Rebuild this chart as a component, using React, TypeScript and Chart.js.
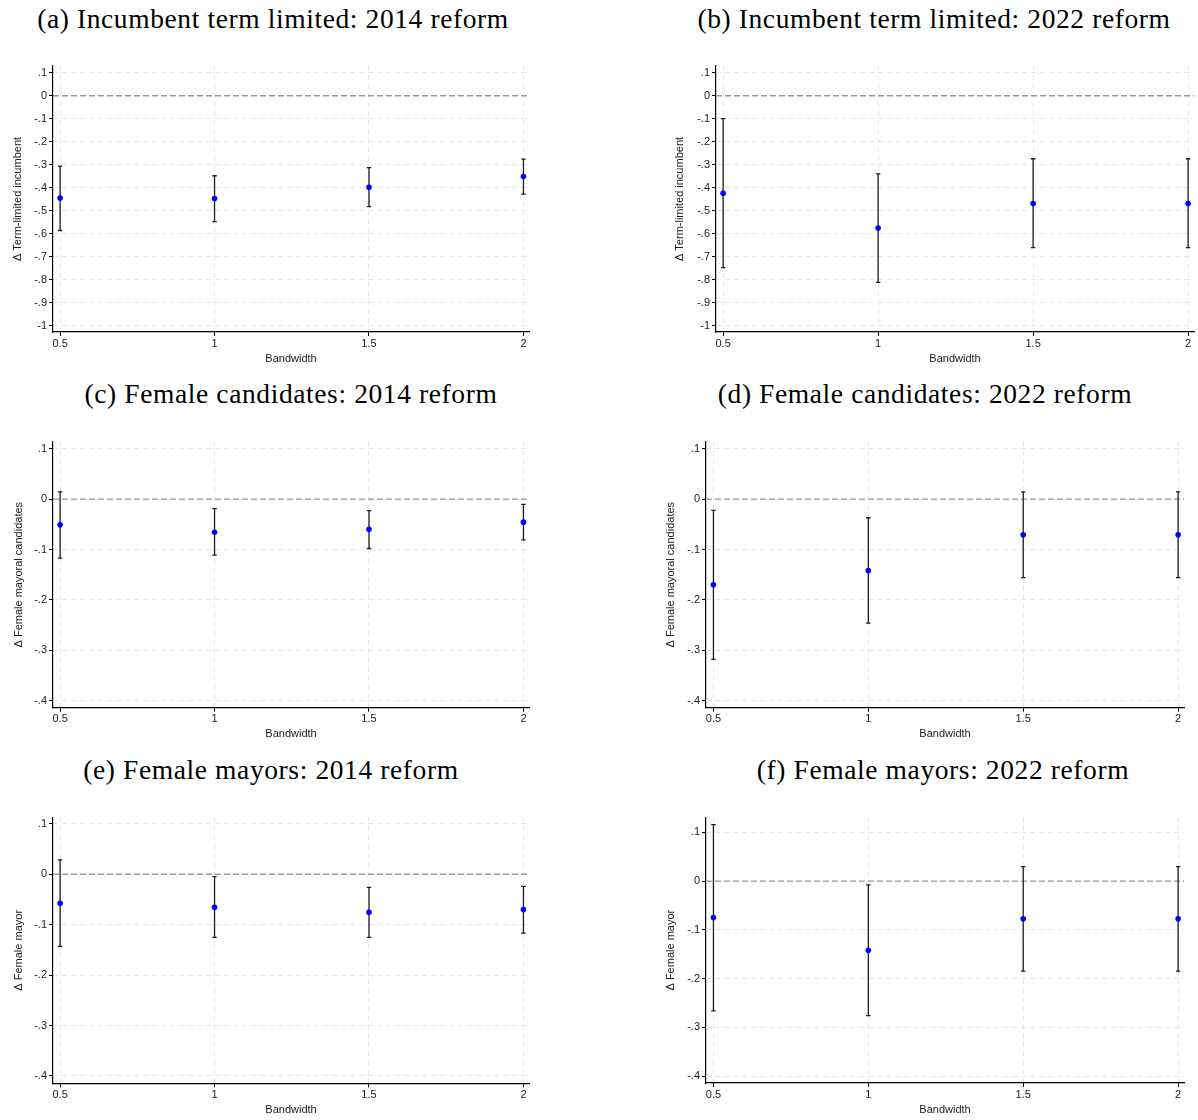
import React, { useEffect, useRef } from 'react';
import { Chart, registerables } from 'chart.js';

Chart.register(...registerables);

// ---------------- data ----------------
const bandwidths = [0.5, 1, 1.5, 2];
const xTickLabels = ['0.5', '1', '1.5', '2'];

const yTicksWide = [0.1, 0, -0.1, -0.2, -0.3, -0.4, -0.5, -0.6, -0.7, -0.8, -0.9, -1];
const yTickLabelsWide = ['.1', '0', '-.1', '-.2', '-.3', '-.4', '-.5', '-.6', '-.7', '-.8', '-.9', '-1'];
const yTicksNarrow = [0.1, 0, -0.1, -0.2, -0.3, -0.4];
const yTickLabelsNarrow = ['.1', '0', '-.1', '-.2', '-.3', '-.4'];

// (a) Incumbent term limited: 2014 reform
const estA = [-0.445, -0.447, -0.398, -0.351];
const lowA = [-0.586, -0.547, -0.482, -0.428];
const highA = [-0.306, -0.348, -0.313, -0.276];
// (b) Incumbent term limited: 2022 reform
const estB = [-0.424, -0.575, -0.469, -0.469];
const lowB = [-0.747, -0.811, -0.66, -0.66];
const highB = [-0.1, -0.34, -0.274, -0.274];
// (c) Female candidates: 2014 reform
const estC = [-0.051, -0.0656, -0.06, -0.0457];
const lowC = [-0.117, -0.111, -0.098, -0.081];
const highC = [0.0146, -0.019, -0.023, -0.0106];
// (d) Female candidates: 2022 reform
const estD = [-0.17, -0.1417, -0.0709, -0.0709];
const lowD = [-0.318, -0.246, -0.156, -0.156];
const highD = [-0.0225, -0.037, 0.0146, 0.0146];
// (e) Female mayors: 2014 reform
const estE = [-0.0575, -0.0655, -0.0755, -0.07];
const lowE = [-0.143, -0.125, -0.125, -0.1165];
const highE = [0.0285, -0.0046, -0.026, -0.024];
// (f) Female mayors: 2022 reform
const estF = [-0.0746, -0.1416, -0.0773, -0.0773];
const lowF = [-0.266, -0.2757, -0.1847, -0.1847];
const highF = [0.116, -0.0075, 0.03, 0.03];

// ---------------- layout ----------------
type Box = { left: number; top: number; w: number; h: number };
type Area = { l: number; t: number; r: number; b: number };
type PanelSpec = {
  title: string;
  titleX: number;
  titleBaseline: number;
  canvas: Box;
  area: Area;
  yTitle: string;
  yTitleX: number;
  xTitleY: number;
  est: number[];
  low: number[];
  high: number[];
  xMin: number;
  xMax: number;
  yMin: number;
  yMax: number;
  yTicks: number[];
  yTickLabels: string[];
};

const panels: PanelSpec[] = [
  {
    title: '(a) Incumbent term limited: 2014 reform', titleX: 273, titleBaseline: 28,
    canvas: { left: 0, top: 50, w: 545, h: 320 }, area: { l: 53, t: 66, r: 529, b: 332 },
    yTitle: '\u0394 Term-limited incumbent', yTitleX: 18, xTitleY: 359,
    est: estA, low: lowA, high: highA, xMin: 0.477, xMax: 2.018, yMin: -1.027, yMax: 0.129,
    yTicks: yTicksWide, yTickLabels: yTickLabelsWide,
  },
  {
    title: '(b) Incumbent term limited: 2022 reform', titleX: 934, titleBaseline: 28,
    canvas: { left: 660, top: 50, w: 538, h: 320 }, area: { l: 716, t: 66, r: 1194, b: 332 },
    yTitle: '\u0394 Term-limited incumbent', yTitleX: 680, xTitleY: 359,
    est: estB, low: lowB, high: highB, xMin: 0.477, xMax: 2.019, yMin: -1.027, yMax: 0.129,
    yTicks: yTicksWide, yTickLabels: yTickLabelsWide,
  },
  {
    title: '(c) Female candidates: 2014 reform', titleX: 291, titleBaseline: 403.5,
    canvas: { left: 0, top: 425, w: 545, h: 320 }, area: { l: 53, t: 441.7, r: 529, b: 707.7 },
    yTitle: '\u0394 Female mayoral candidates', yTitleX: 19, xTitleY: 734,
    est: estC, low: lowC, high: highC, xMin: 0.477, xMax: 2.018, yMin: -0.414, yMax: 0.114,
    yTicks: yTicksNarrow, yTickLabels: yTickLabelsNarrow,
  },
  {
    title: '(d) Female candidates: 2022 reform', titleX: 925, titleBaseline: 403.5,
    canvas: { left: 650, top: 425, w: 548, h: 320 }, area: { l: 706, t: 441.7, r: 1184, b: 707.7 },
    yTitle: '\u0394 Female mayoral candidates', yTitleX: 671, xTitleY: 734,
    est: estD, low: lowD, high: highD, xMin: 0.476, xMax: 2.019, yMin: -0.414, yMax: 0.114,
    yTicks: yTicksNarrow, yTickLabels: yTickLabelsNarrow,
  },
  {
    title: '(e) Female mayors: 2014 reform', titleX: 271, titleBaseline: 779,
    canvas: { left: 0, top: 800, w: 545, h: 320 }, area: { l: 53, t: 817.3, r: 529, b: 1083.3 },
    yTitle: '\u0394 Female mayor', yTitleX: 19, xTitleY: 1110,
    est: estE, low: lowE, high: highE, xMin: 0.477, xMax: 2.018, yMin: -0.4145, yMax: 0.113,
    yTicks: yTicksNarrow, yTickLabels: yTickLabelsNarrow,
  },
  {
    title: '(f) Female mayors: 2022 reform', titleX: 943, titleBaseline: 779,
    canvas: { left: 650, top: 800, w: 548, h: 320 }, area: { l: 706, t: 817.3, r: 1184, b: 1083 },
    yTitle: '\u0394 Female mayor', yTitleX: 671, xTitleY: 1110,
    est: estF, low: lowF, high: highF, xMin: 0.476, xMax: 2.019, yMin: -0.414, yMax: 0.131,
    yTicks: yTicksNarrow, yTickLabels: yTickLabelsNarrow,
  },
];

const SANS = '"Liberation Sans", Arial, sans-serif';
const FS = 11;
const LH = FS * 1.2;

function labelFor(values: number[], labels: string[], v: number): string {
  for (let i = 0; i < values.length; i++) if (Math.abs(values[i] - v) < 1e-9) return labels[i];
  return '';
}

function makeErrorBarPlugin(spec: PanelSpec) {
  return {
    id: 'errorBars',
    beforeDatasetsDraw(chart: any) {
      const { ctx, chartArea, scales } = chart;
      const xs = scales.x;
      const ys = scales.y;
      ctx.save();
      // reference line at zero
      const y0 = ys.getPixelForValue(0);
      ctx.strokeStyle = '#9a9a9a';
      ctx.lineWidth = 1.4;
      ctx.setLineDash([6, 3]);
      ctx.beginPath();
      ctx.moveTo(chartArea.left, y0);
      ctx.lineTo(chartArea.right, y0);
      ctx.stroke();
      ctx.setLineDash([]);
      // confidence intervals
      ctx.strokeStyle = '#1c1c1c';
      ctx.lineWidth = 1.3;
      bandwidths.forEach((bw, i) => {
        const px = xs.getPixelForValue(bw);
        const pHi = ys.getPixelForValue(spec.high[i]);
        const pLo = ys.getPixelForValue(spec.low[i]);
        ctx.beginPath();
        ctx.moveTo(px, pHi);
        ctx.lineTo(px, pLo);
        ctx.moveTo(px - 2.2, pHi);
        ctx.lineTo(px + 2.2, pHi);
        ctx.moveTo(px - 2.2, pLo);
        ctx.lineTo(px + 2.2, pLo);
        ctx.stroke();
      });
      ctx.restore();
    },
  };
}

function Panel({ spec }: { spec: PanelSpec }) {
  const ref = useRef<HTMLCanvasElement | null>(null);
  useEffect(() => {
    const c = spec.canvas;
    const a = spec.area;
    const padTop = a.t - c.top;
    const padRight = c.left + c.w - a.r;
    const yWidth = a.l - c.left;
    const xHeight = c.top + c.h - a.b;
    const gridCommon = {
      color: '#e7e7e7',
      lineWidth: 1,
      drawTicks: true,
      tickLength: 4,
      tickColor: '#000',
      tickWidth: 1,
      tickBorderDash: [],
    };
    const chart = new Chart(ref.current as HTMLCanvasElement, {
      type: 'scatter',
      data: {
        datasets: [
          {
            data: bandwidths.map((bw, i) => ({ x: bw, y: spec.est[i] })),
            pointRadius: 2.8,
            pointHoverRadius: 2.8,
            pointBackgroundColor: '#0000ff',
            pointBorderColor: '#0000ff',
            pointBorderWidth: 0,
          },
        ],
      },
      options: {
        animation: false,
        responsive: false,
        maintainAspectRatio: false,
        events: [],
        layout: { padding: { top: padTop, right: padRight, bottom: 0, left: 0 } },
        plugins: {
          legend: { display: false },
          tooltip: { enabled: false },
          title: { display: false },
        },
        scales: {
          x: {
            type: 'linear',
            min: spec.xMin,
            max: spec.xMax,
            bounds: 'data',
            afterBuildTicks: (s: any) => {
              s.ticks = bandwidths.map((v) => ({ value: v }));
            },
            afterFit: (s: any) => {
              s.height = xHeight;
            },
            ticks: {
              autoSkip: false,
              maxRotation: 0,
              padding: 1,
              color: '#1a1a1a',
              font: { family: SANS, size: FS },
              callback: (v: any) => labelFor(bandwidths, xTickLabels, Number(v)),
            },
            grid: gridCommon,
            border: { display: true, color: '#000', width: 1.2, dash: [5, 4] },
            title: {
              display: true,
              text: 'Bandwidth',
              color: '#1a1a1a',
              font: { family: SANS, size: FS },
              padding: { top: 0, bottom: c.top + c.h - spec.xTitleY - LH / 2 },
            },
          },
          y: {
            type: 'linear',
            min: spec.yMin,
            max: spec.yMax,
            bounds: 'data',
            afterBuildTicks: (s: any) => {
              s.ticks = spec.yTicks.map((v) => ({ value: v }));
            },
            afterFit: (s: any) => {
              s.width = yWidth;
            },
            ticks: {
              autoSkip: false,
              padding: 2,
              color: '#1a1a1a',
              font: { family: SANS, size: FS },
              callback: (v: any) => labelFor(spec.yTicks, spec.yTickLabels, Number(v)),
            },
            grid: gridCommon,
            border: { display: true, color: '#000', width: 1.2, dash: [5, 4] },
            title: {
              display: true,
              text: spec.yTitle,
              color: '#1a1a1a',
              font: { family: SANS, size: FS },
              padding: { top: spec.yTitleX - c.left - LH / 2, bottom: 0 },
            },
          },
        },
      } as any,
      plugins: [makeErrorBarPlugin(spec)],
    });
    return () => chart.destroy();
  }, [spec]);

  return (
    <canvas
      ref={ref}
      width={spec.canvas.w}
      height={spec.canvas.h}
      style={{
        position: 'absolute',
        left: spec.canvas.left,
        top: spec.canvas.top,
        width: spec.canvas.w,
        height: spec.canvas.h,
      }}
    />
  );
}

const TITLE_FS = 27.5;

export default function App() {
  return (
    <div
      style={{
        position: 'absolute',
        left: 0,
        top: 0,
        width: 1198,
        height: 1120,
        overflow: 'hidden',
        background: '#ffffff',
      }}
    >
      {panels.map((p, i) => (
        <React.Fragment key={i}>
          <div
            style={{
              position: 'absolute',
              left: p.titleX,
              top: p.titleBaseline - 0.8375 * TITLE_FS,
              transform: 'translateX(-50%)',
              whiteSpace: 'nowrap',
              fontFamily: '"Liberation Serif", "Times New Roman", serif',
              fontSize: TITLE_FS,
              lineHeight: `${TITLE_FS}px`,
              letterSpacing: '0.6px',
              color: '#000',
            }}
          >
            {p.title}
          </div>
          <Panel spec={p} />
        </React.Fragment>
      ))}
    </div>
  );
}
